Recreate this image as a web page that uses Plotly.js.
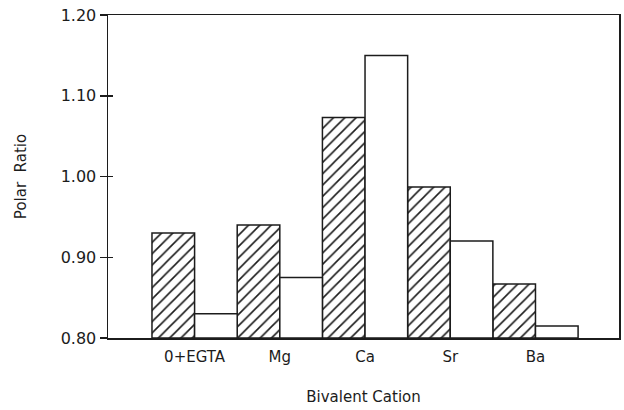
<!DOCTYPE html>
<html>
<head>
<meta charset="utf-8">
<script src="https://cdn.plot.ly/plotly-3.0.1.min.js"></script>
<style>
  html, body { margin: 0; padding: 0; background: #fff; }
  #chart { width: 624px; height: 410px; }
</style>
</head>
<body>
<div id="chart"></div>
<script>
// Bivalent cation categories
const cations = ['0+EGTA', 'Mg', 'Ca', 'Sr', 'Ba'];
// Polar ratio, hatched series
const hatchedRatio = [0.930, 0.940, 1.073, 0.987, 0.867];
// Polar ratio, open series
const openRatio = [0.830, 0.875, 1.150, 0.920, 0.815];
// Y-axis ticks
const yTicks = [0.80, 0.90, 1.00, 1.10, 1.20];
const yTickText = ['0.80', '0.90', '1.00', '1.10', '1.20'];

const baseline = 0.80;
const ink = '#1c1c1c';
const fontFamily = 'DejaVu Sans, Verdana, sans-serif';

// bars rise from the 0.80 baseline; the axis is shifted by the same amount
const hatched = {
  type: 'bar',
  x: cations,
  y: hatchedRatio.map(v => v - baseline),
  customdata: hatchedRatio,
  marker: {
    color: '#ffffff',
    line: { color: ink, width: 1.5 },
    pattern: { shape: '/', fgcolor: ink, bgcolor: '#ffffff', size: 8, solidity: 0.2 }
  },
  showlegend: false
};

const open = {
  type: 'bar',
  x: cations,
  y: openRatio.map(v => v - baseline),
  customdata: openRatio,
  marker: { color: '#ffffff', line: { color: ink, width: 1.5 } },
  showlegend: false
};

// carrier for the overlay axis that draws the inward half of each tick
const tickCarrier = {
  type: 'scatter',
  mode: 'none',
  x: cations,
  y: openRatio.map(v => v - baseline),
  yaxis: 'y2',
  hoverinfo: 'skip',
  showlegend: false
};

const shifted = yTicks.map(v => v - baseline);
const yRange = [0, yTicks[yTicks.length - 1] - baseline];

const layout = {
  width: 624,
  height: 410,
  margin: { l: 108, r: 5, t: 15, b: 72 },
  paper_bgcolor: '#ffffff',
  plot_bgcolor: '#ffffff',
  barmode: 'group',
  bargap: 0,
  bargroupgap: 0,
  font: { family: fontFamily, size: 15, color: ink },
  xaxis: {
    type: 'category',
    range: [-1.016, 4.98],
    showline: true,
    linecolor: ink,
    linewidth: 1.5,
    mirror: true,
    ticks: '',
    ticklabelstandoff: 4,
    showgrid: false,
    zeroline: false,
    tickfont: { family: fontFamily, size: 15, color: ink },
    title: { text: 'Bivalent Cation', font: { family: fontFamily, size: 15, color: ink }, standoff: 27 }
  },
  yaxis: {
    range: yRange,
    tickvals: shifted,
    ticktext: yTickText,
    ticks: 'outside',
    ticklen: 7,
    tickwidth: 1.5,
    tickcolor: ink,
    showline: true,
    linecolor: ink,
    linewidth: 1.5,
    mirror: true,
    showgrid: false,
    zeroline: false,
    tickfont: { family: fontFamily, size: 16, color: ink },
    title: { text: 'Polar  Ratio', font: { family: fontFamily, size: 15, color: ink }, standoff: 30 }
  },
  yaxis2: {
    overlaying: 'y',
    anchor: 'x',
    side: 'left',
    range: yRange,
    tickvals: shifted.slice(1, -1),
    ticks: 'inside',
    ticklen: 5,
    tickwidth: 1.5,
    tickcolor: ink,
    showticklabels: false,
    showline: false,
    showgrid: false,
    zeroline: false
  }
};

Plotly.newPlot('chart', [hatched, open, tickCarrier], layout, { staticPlot: true, displayModeBar: false });
</script>
</body>
</html>
